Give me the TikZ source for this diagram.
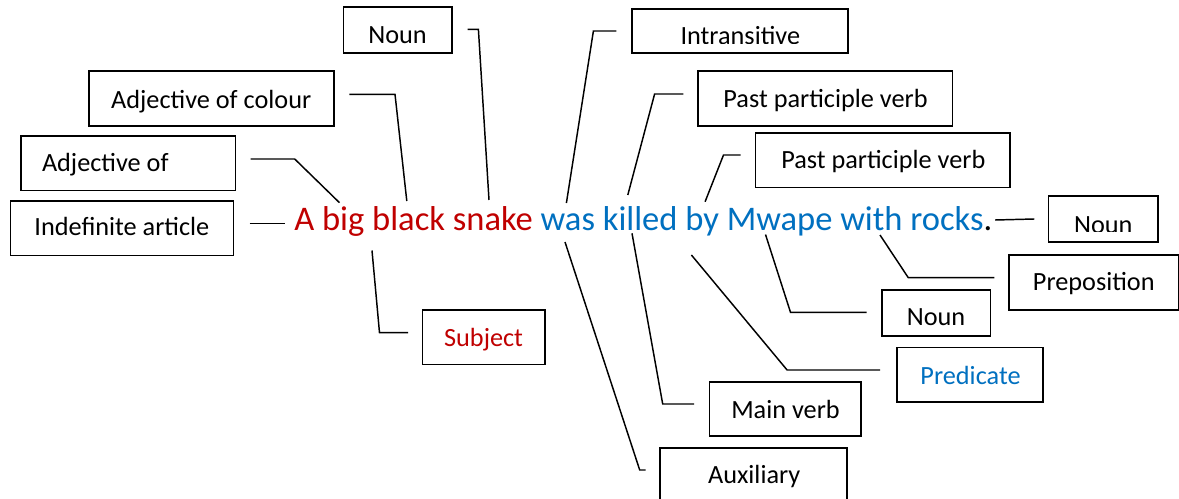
\documentclass[tikz,border=0pt]{standalone}
\usepackage{fontspec}
\setmainfont{Carlito}
\definecolor{sred}{HTML}{C00000}
\definecolor{sblue}{HTML}{0070C0}
\tikzset{
  bx/.style={draw=black, line width=1.2pt, inner sep=0pt, outer sep=0pt},
  lbl/.style={anchor=base, inner sep=0pt, outer sep=0pt, font=\fontsize{19.7}{23}\selectfont},
  conn/.style={draw=black, line width=1.1pt, line join=miter},
}
% name, x1, y1, x2, y2, text x, baseline y, text, text options
\newcommand\mybox[9]{%
  \node[bx, minimum width={(#4-#2)*0.75pt}, minimum height={(#5-#3)*0.75pt}] (#1) at ({(#2+#4)/2},{(#3+#5)/2}) {};
  \node[lbl, #9] (#1-t) at (#6,#7) {#8};
}
\begin{document}
\begin{tikzpicture}[x=0.75pt, y=-0.75pt]
\useasboundingbox[fill=white] (0,0) rectangle (1179,499);

% sentence
\node[anchor=base west, inner sep=0pt, font=\fontsize{25.9}{30}\selectfont] (sent) at (294,231)
  {{\color{sred}A big black snake} {\color{sblue}was killed by Mwape with rocks}.};

% boxes
\mybox{nounA}{343.3}{7.3}{452}{53.3}{397.5}{43.3}{Noun}{}
\mybox{adjcol}{89.2}{71}{333.7}{126}{211.2}{108.3}{Adjective of colour}{}
\mybox{adjof}{21}{136}{235.4}{190.7}{42}{171.7}{Adjective of}{anchor=base west}
\mybox{indef}{10.3}{201}{233.4}{255.7}{121.9}{235.7}{Indefinite article}{}
\mybox{ppvA}{697.9}{71}{952.4}{126}{825.5}{107.3}{Past participle verb}{}
\mybox{ppvB}{755.3}{133.3}{1010.2}{187.7}{883.3}{168.3}{Past participle verb}{}
\mybox{prep}{1008.7}{255}{1178.3}{310}{1093.8}{291}{Preposition}{}
\mybox{nounC}{881.7}{290}{990.3}{336}{936}{325.7}{Noun}{}
\mybox{pred}{896.7}{347.3}{1042.7}{401.7}{970.5}{384}{Predicate}{text=sblue}
\mybox{subj}{422.4}{310}{544.8}{364.3}{483.6}{346.7}{Subject}{text=sred}
\mybox{mainv}{709.4}{381.7}{861}{436}{785.5}{418.3}{Main verb}{}
\mybox{aux}{660}{447.7}{847.2}{508}{754.2}{483.3}{Auxiliary}{}

% boxes whose text is cut at the bottom
\node[bx, minimum width={(847.9-631.7)*0.75pt}, minimum height={(53.3-9)*0.75pt}] (intr) at ({(631.7+847.9)/2},{(9+53.3)/2}) {};
\begin{scope}
  \clip (631.7,9) rectangle (847.9,43.3);
  \node[lbl] (intr-t) at (740.3,45) {Intransitive};
\end{scope}
\node[bx, minimum width={(1157.7-1048.3)*0.75pt}, minimum height={(242.3-196)*0.75pt}] (nounB) at ({(1048.3+1157.7)/2},{(196+242.3)/2}) {};
\begin{scope}
  \clip (1048.3,196) rectangle (1157.7,231.7);
  \node[lbl] (nounB-t) at (1103.3,234) {Noun};
\end{scope}

% connector points
\coordinate (i1) at (249.5,223.3); \coordinate (i2) at (285,223.3);
\coordinate (ao1) at (250.7,159);  \coordinate (ao2) at (294.7,159);  \coordinate (ao3) at (339.5,202.7);
\coordinate (ac1) at (349.4,94.3); \coordinate (ac2) at (395,94.3);   \coordinate (ac3) at (406.8,201);
\coordinate (na1) at (467.7,29.3); \coordinate (na2) at (478.4,29.3); \coordinate (na3) at (489,200);
\coordinate (it1) at (616.4,31);   \coordinate (it2) at (593.4,31);   \coordinate (it3) at (566.4,203);
\coordinate (pa1) at (683.3,94);   \coordinate (pa2) at (654.6,94);   \coordinate (pa3) at (627.8,195);
\coordinate (pb1) at (740.7,155);  \coordinate (pb2) at (723.5,155);  \coordinate (pb3) at (705.1,201.7);
\coordinate (nb1) at (1034.3,219); \coordinate (nb2) at (995.2,220);
\coordinate (pr1) at (994.3,277.7); \coordinate (pr2) at (908.3,277.7); \coordinate (pr3) at (880,235);
\coordinate (nc1) at (866.7,312.3); \coordinate (nc2) at (790.5,312.3); \coordinate (nc3) at (765.5,234.5);
\coordinate (pd1) at (880,370);    \coordinate (pd2) at (787.1,370);  \coordinate (pd3) at (691.4,255);
\coordinate (mv1) at (694,404);    \coordinate (mv2) at (662.7,404);  \coordinate (mv3) at (632,233.3);
\coordinate (ax1) at (645.5,470);  \coordinate (ax2) at (639.7,470);  \coordinate (ax3) at (565,242);
\coordinate (sb1) at (372,250.5);  \coordinate (sb2) at (379.5,332.7); \coordinate (sb3) at (408.2,332.7);

% connectors
\draw[conn] (i1) -- (i2);
\draw[conn] (ao1) -- (ao2) -- (ao3);
\draw[conn] (ac1) -- (ac2) -- (ac3);
\draw[conn] (na1) -- (na2) -- (na3);
\draw[conn] (it1) -- (it2) -- (it3);
\draw[conn] (pa1) -- (pa2) -- (pa3);
\draw[conn] (pb1) -- (pb2) -- (pb3);
\draw[conn] (nb1) -- (nb2);
\draw[conn] (pr1) -- (pr2) -- (pr3);
\draw[conn] (nc1) -- (nc2) -- (nc3);
\draw[conn] (pd1) -- (pd2) -- (pd3);
\draw[conn] (mv1) -- (mv2) -- (mv3);
\draw[conn] (ax1) -- (ax2) -- (ax3);
\draw[conn] (sb1) -- (sb2) -- (sb3);
\end{tikzpicture}
\end{document}
